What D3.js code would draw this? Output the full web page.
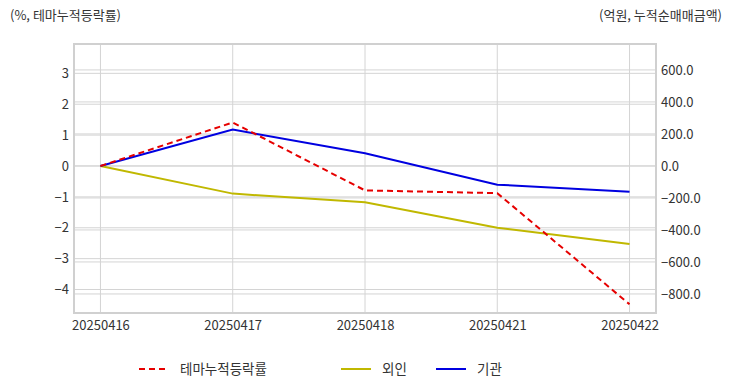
<!DOCTYPE html>
<html><head><meta charset="utf-8">
<script src="https://cdn.jsdelivr.net/npm/d3@7"></script>
<style>body{margin:0;background:#fff}svg{display:block}text{font-family:"Noto Sans CJK KR","Noto Sans",sans-serif;fill:#333}</style>
</head><body>
<svg id="c" width="732" height="392"></svg>
<script>
const dates = ["20250416","20250417","20250418","20250421","20250422"];
const themeRate = [0, 1.41, -0.79, -0.88, -4.48];
const foreign = [0, -173, -227, -386, -488];
const institution = [0, 227, 79, -117, -162];
const leftTicks = [-4,-3,-2,-1,0,1,2,3];
const rightTicks = [-800,-600,-400,-200,0,200,400,600];
const seriesNames = ["테마누적등락률","외인","기관"];

const svg = d3.select("#c");
const L=74, R=656, T=44, B=313;
const x = d3.scalePoint().domain(dates).range([L,R]).padding(0.2);
const yL = d3.scaleLinear().domain([-4.76,3.95]).range([B,T]);
const yR = d3.scaleLinear().domain([-919,762]).range([B,T]);
const grid="#d4d4d4";

// gridlines
svg.append("g").selectAll("line").data(leftTicks).join("line")
 .attr("x1",L).attr("x2",R).attr("y1",d=>yL(d)).attr("y2",d=>yL(d)).attr("stroke",grid);
svg.append("g").selectAll("line").data(rightTicks).join("line")
 .attr("x1",L).attr("x2",R).attr("y1",d=>yR(d)).attr("y2",d=>yR(d)).attr("stroke",grid);
svg.append("g").selectAll("line").data(dates).join("line")
 .attr("x1",d=>x(d)).attr("x2",d=>x(d)).attr("y1",T).attr("y2",B).attr("stroke",grid);
svg.append("rect").attr("x",L).attr("y",T).attr("width",R-L).attr("height",B-T)
 .attr("fill","none").attr("stroke","#d0d0d0").attr("stroke-width",2);

// axes
const axL = svg.append("g").attr("transform",`translate(${L},0)`)
 .call(d3.axisLeft(yL).tickValues(leftTicks).tickSize(0).tickPadding(5).tickFormat(d3.format("d")));
const axR = svg.append("g").attr("transform",`translate(${R},0)`)
 .call(d3.axisRight(yR).tickValues(rightTicks).tickSize(0).tickPadding(5).tickFormat(d3.format(".1f")));
const axB = svg.append("g").attr("transform",`translate(0,${B})`)
 .call(d3.axisBottom(x).tickSize(0).tickPadding(8));
[axL,axR,axB].forEach(a=>{a.select(".domain").remove();a.selectAll("text").attr("font-size",13).attr("fill","#333").style("font-family",'"Noto Sans CJK KR",sans-serif');});

// titles
svg.append("text").attr("x",10).attr("y",20).attr("font-size",13).text("(%, 테마누적등락률)");
svg.append("text").attr("x",722).attr("y",20).attr("text-anchor","end").attr("font-size",13).text("(억원, 누적순매매금액)");

// lines
const lineL = d3.line().x((d,i)=>x(dates[i])).y(d=>yL(d));
const lineR = d3.line().x((d,i)=>x(dates[i])).y(d=>yR(d));
svg.append("path").datum(foreign).attr("d",lineR).attr("fill","none").attr("stroke","#c0b800").attr("stroke-width",2);
svg.append("path").datum(institution).attr("d",lineR).attr("fill","none").attr("stroke","#0000e0").attr("stroke-width",2);
svg.append("path").datum(themeRate).attr("d",lineL).attr("fill","none").attr("stroke","#e60000").attr("stroke-width",2).attr("stroke-dasharray","6,4");

// legend
const leg = [
 {name:seriesNames[0],color:"#e60000",dash:"6,4",x:139},
 {name:seriesNames[1],color:"#c0b800",dash:null,x:341},
 {name:seriesNames[2],color:"#0000e0",dash:null,x:436}
];
const lg = svg.append("g");
leg.forEach(l=>{
 lg.append("line").attr("x1",l.x).attr("x2",l.x+30).attr("y1",369).attr("y2",369)
  .attr("stroke",l.color).attr("stroke-width",2).attr("stroke-dasharray",l.dash);
 lg.append("text").attr("x",l.x+41).attr("y",374).attr("font-size",13.5).text(l.name);
});
</script>
</body></html>
